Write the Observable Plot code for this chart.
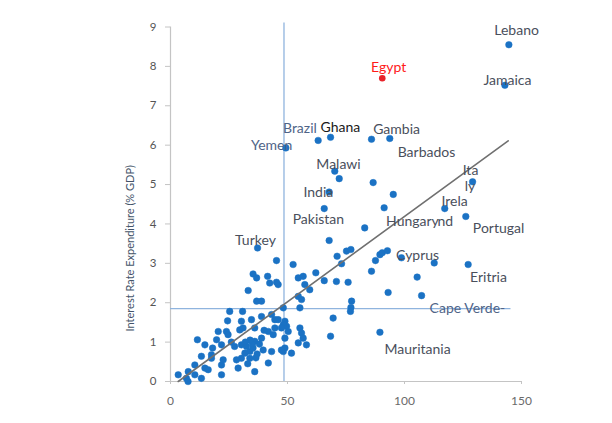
<!DOCTYPE html>
<html>
<head>
<meta charset="utf-8">
<script src="https://cdn.jsdelivr.net/npm/d3@7"></script>
<script src="https://cdn.jsdelivr.net/npm/@observablehq/plot@0.6"></script>
<style>
  html, body { margin: 0; padding: 0; background: #ffffff; }
  #chart svg { display: block; }
</style>
</head>
<body>
<div id="chart"></div>
<script>
// ---- data ----
const debtGdp = [144.6,142.9,63.1,68.4,85.9,93.7,49.3,70.2,72.1,86.6,67.8,95.2,65.7,91.3,83.0,67.8,37.2,129.1,117.2,126.2,
  71.2,75.2,77.1,73.1,87.6,89.5,90.5,92.7,85.9,98.7,112.7,127.2,105.4,107.3,93.0,62.1,65.7,70.9,75.9,77.4,
  77.1,76.9,69.5,68.4,89.5,52.4,54.6,56.7,57.4,59.5,48.2,48.9,49.6,48.9,48.9,51.7,55.3,56.0,56.7,58.1,
  54.6,55.3,45.3,35.3,36.8,41.5,42.4,46.0,33.2,36.8,38.9,25.3,30.8,24.4,30.3,34.6,38.9,43.2,46.0,48.2,
  20.4,23.9,29.6,36.0,41.8,44.6,11.5,14.7,19.7,21.8,30.3,32.5,33.9,31.8,30.3,35.3,39.6,43.2,48.2,13.2,
  17.5,22.5,28.2,33.9,41.8,36.0,28.9,21.8,14.7,10.4,7.6,3.3,6.8,10.4,45.3,56.0,44.6,47.4,50.3,24.6,
  31.0,27.4,36.0,38.9,43.9,54.6,47.4,17.5,21.8,7.5,16.1,13.2,35.0,37.0,34.0,32.0,38.0,36.5,33.0,40.0,26.0,18.0];
const interestExp = [8.55,7.52,6.12,6.20,6.15,6.17,5.93,5.34,5.15,5.05,4.81,4.75,4.39,4.41,3.90,3.58,3.39,5.07,4.39,4.19,
  3.18,3.31,3.35,2.99,3.07,3.22,3.27,3.32,2.80,3.14,3.01,2.97,2.65,2.18,2.26,2.76,2.56,2.54,2.52,2.04,
  1.88,1.78,1.61,1.15,1.25,2.97,2.63,2.67,2.46,2.33,1.87,1.53,1.40,1.10,0.85,0.72,1.36,1.23,1.10,0.93,
  2.16,1.87,3.07,2.73,2.63,2.67,2.50,2.46,2.31,2.04,2.04,1.78,1.78,1.54,1.53,1.57,1.65,1.70,1.57,1.44,
  1.27,1.27,1.31,1.36,1.27,1.36,1.06,0.93,1.06,0.93,0.93,0.89,0.76,0.72,0.59,0.85,0.80,0.76,0.76,0.64,
  0.68,0.55,0.55,0.59,0.47,0.25,0.34,0.17,0.34,0.42,0.25,0.17,0.08,0.17,2.52,2.08,1.57,1.36,1.27,1.19,
  1.36,0.89,1.02,1.10,1.19,0.98,0.80,0.59,0.42,0.00,0.30,0.08,0.95,0.70,1.05,1.00,0.95,0.60,0.45,1.30,1.00,0.85];

const egyptX = [90.5];
const egyptY = [7.70];

const labelNames = ["Lebano","Jamaica","Egypt","Brazil","Ghana","Gambia","Yemen","Barbados","Malawi","India",
  "Pakistan","Turkey","Hungary","nd","Ita","ly","Irela","Portugal","Cyprus","Eritria","Cape Verde-","Mauritania"];
const labelX = [147.9,144.0,93.2,55.3,72.6,96.6,43.2,109.4,71.8,63.2,63.2,36.3,103.4,117.4,128.2,128.0,121.4,140.2,105.6,135.9,126.9,105.6];
const labelY = [8.92,7.65,7.98,6.43,6.46,6.41,6.00,5.82,5.52,4.81,4.12,3.59,4.05,4.05,5.36,4.95,4.58,3.89,3.20,2.64,1.86,0.81];
const labelKind = ["n","n","egypt","blue","ghana","n","blue","n","n","n","n","n","n","n","n","n","n","n","n","n","blue","n"];

const trendX = [3.3, 144.3];
const trendY = [0, 6.11];

const refX = [48.5];       // vertical reference (debt)
const refY = [1.85];       // horizontal reference (interest)
const refSpanX = [0, 145.5];
const refSpanY = [0, 9.1];

const xTicks = [0, 50, 100, 150];
const yTicks = [0, 1, 2, 3, 4, 5, 6, 7, 8, 9];
const yTitle = "Interest Rate Expenditure (% GDP)";

// ---- build tables ----
const points = debtGdp.map((d, i) => ({x: d, y: interestExp[i]}));
const egypt = egyptX.map((d, i) => ({x: d, y: egyptY[i]}));
const labels = labelNames.map((n, i) => ({name: n, x: labelX[i], y: labelY[i], kind: labelKind[i]}));
const trend = trendX.map((d, i) => ({x: d, y: trendY[i]}));
const labelColor = {n: "#4a4f5c", egypt: "#ff1a1a", ghana: "#1a1a1a", blue: "#4f6488"};

const font = "Lato, 'Open Sans', sans-serif";

const chart = Plot.plot({
  width: 612,
  height: 423,
  marginLeft: 170,
  marginRight: 91,
  marginTop: 26.5,
  marginBottom: 42,
  style: {fontFamily: font, background: "#ffffff"},
  x: {domain: [0, 150]},
  y: {domain: [0, 9]},
  marks: [
    // axis lines
    Plot.ruleX([0], {stroke: "#c4c4c4", strokeWidth: 1.2}),
    Plot.ruleY([0], {stroke: "#c4c4c4", strokeWidth: 1.2}),
    // reference lines
    Plot.ruleX(refX, {y1: refSpanY[0], y2: refSpanY[1], stroke: "#8fb4de", strokeWidth: 1.3}),
    Plot.ruleY(refY, {x1: refSpanX[0], x2: refSpanX[1], stroke: "#8fb4de", strokeWidth: 1.3}),
    Plot.axisX({ticks: xTicks, tickSize: 3, tickPadding: 12, stroke: "#c4c4c4", color: "#6a6a6a", fontSize: 12, label: null}),
    Plot.axisY({ticks: yTicks, tickSize: 5, tickPadding: 9, stroke: "#c4c4c4", color: "#555555", fontSize: 11.5, label: null}),
    Plot.text([yTitle], {frameAnchor: "left", textAnchor: "middle", dx: -40, dy: 44, rotate: -90, fill: "#44546a", fontSize: 11}),
    // points
    Plot.dot(points, {x: "x", y: "y", r: 3.3, fill: "#1b72c4", stroke: "#1b72c4", strokeWidth: 0.5}),
    Plot.dot(egypt, {x: "x", y: "y", r: 3.3, fill: "#e8232a"}),
    // trend line
    Plot.line(trend, {x: "x", y: "y", stroke: "#707070", strokeWidth: 1.6}),
    // labels
    Plot.text(labels, {x: "x", y: "y", text: "name", fill: d => labelColor[d.kind], fontSize: 14,
      fontWeight: d => d.kind === "ghana" || d.kind === "egypt" ? 600 : 400})
  ]
});

document.getElementById("chart").appendChild(chart);
</script>
</body>
</html>
